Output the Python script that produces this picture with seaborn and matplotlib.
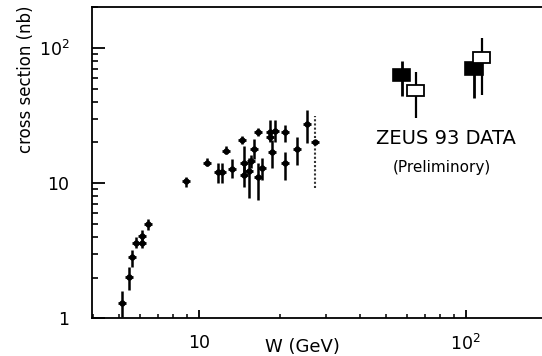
import numpy as np
import pandas as pd
import matplotlib
matplotlib.use("Agg")
import matplotlib.pyplot as plt
from matplotlib.patches import Rectangle
from matplotlib.ticker import FixedLocator, FixedFormatter, NullFormatter
import seaborn as sns

# Fixed-target / low-energy photoproduction measurements
w_gev = [5.12, 5.45, 5.61, 5.77, 6.10, 6.10, 6.42, 8.92, 10.66, 11.75, 12.17,
         12.6, 13.3, 14.5, 14.7, 14.7, 15.4, 15.7, 16.0, 16.6, 16.6, 17.2,
         18.4, 18.5, 18.7, 19.3, 20.96, 20.96, 23.2, 25.3, 27.1]
sigma_nb = [1.30, 2.01, 2.83, 3.63, 3.63, 4.09, 4.97, 10.3, 14.2, 12.0, 12.0,
            17.4, 12.8, 20.9, 14.2, 11.5, 12.4, 14.5, 18.0, 23.9, 11.1, 13.05,
            24.1, 21.9, 16.9, 24.5, 23.7, 14.1, 17.9, 27.4, 20.1]
sigma_lo = [1.03, 1.62, 2.41, 3.30, 3.30, 3.80, 4.51, 9.4, 13.3, 10.0, 10.0,
            16.5, 10.9, 19.6, 11.9, 9.4, 7.8, 13.0, 15.1, 22.2, 7.5, 10.6,
            20.2, 20.5, 12.9, 20.3, 20.3, 10.6, 13.6, 19.8, 9.2]
sigma_hi = [1.60, 2.41, 3.21, 4.00, 4.00, 4.50, 5.44, 11.1, 15.4, 14.1, 14.1,
            18.7, 15.0, 22.3, 18.7, 13.5, 15.4, 16.2, 21.3, 25.6, 14.2, 15.4,
            29.4, 23.5, 20.9, 29.1, 27.0, 17.1, 21.9, 34.6, 31.3]

# ZEUS 93 results: two analyses (filled / open boxes)
zeus_filled_w = [57.4, 107.0]
zeus_filled_sigma = [62.9, 70.3]
zeus_filled_w_lo = [53.5, 99.6]
zeus_filled_w_hi = [61.6, 115.8]
zeus_filled_box_lo = [56.5, 62.9]
zeus_filled_box_hi = [69.9, 78.6]
zeus_filled_err_lo = [43.8, 42.6]
zeus_filled_err_hi = [80.5, 78.6]

zeus_open_w = [64.9, 114.5]
zeus_open_sigma = [48.7, 84.8]
zeus_open_w_lo = [60.4, 106.4]
zeus_open_w_hi = [69.8, 123.0]
zeus_open_box_lo = [44.3, 77.4]
zeus_open_box_hi = [53.5, 92.7]
zeus_open_err_lo = [30.3, 45.0]
zeus_open_err_hi = [65.9, 118.6]

y_ticks = [1, 10, 100]
y_tick_labels = ["1", "10", r"$10^2$"]
x_ticks = [10, 100]
x_tick_labels = ["10", r"$10^2$"]

sns.set_style("ticks")
plt.rcParams["font.family"] = ["DejaVu Sans"]
plt.rcParams["mathtext.fontset"] = "dejavusans"
for key in ("text.color", "axes.labelcolor", "xtick.color", "ytick.color",
            "xtick.labelcolor", "ytick.labelcolor"):
    plt.rcParams[key] = "black"

fig = plt.figure(figsize=(5.42, 3.56), dpi=100)
ax = fig.add_axes([0.1692, 0.1059, 0.8308, 0.8736])
ax.set_xscale("log")
ax.set_yscale("log")
ax.set_xlim(3.95, 193)
ax.set_ylim(1, 200)

df = pd.DataFrame({"W": w_gev, "sigma": sigma_nb, "lo": sigma_lo, "hi": sigma_hi})

# error bars (the last measurement is drawn dotted)
ax.vlines(df["W"][:-1], df["lo"][:-1], df["hi"][:-1], color="black", lw=1.8, zorder=2)
ax.vlines(df["W"].iloc[-1:], df["lo"].iloc[-1:], df["hi"].iloc[-1:], color="#333333",
          lw=1.5, linestyles=(0, (1, 1)), zorder=2)
sns.scatterplot(data=df, x="W", y="sigma", marker="o", s=16, color="black",
                edgecolor="black", linewidth=0.5, ax=ax, zorder=3)
sns.scatterplot(data=df, x="W", y="sigma", marker="_", s=32, color="black",
                linewidth=2.0, ax=ax, zorder=3)

# ZEUS boxes with their error bars
ax.vlines(zeus_filled_w, zeus_filled_err_lo, zeus_filled_err_hi, color="black", lw=2.0, zorder=3)
ax.vlines(zeus_open_w, zeus_open_err_lo, zeus_open_err_hi, color="black", lw=1.6, zorder=3)
for x0, x1, y0, y1 in zip(zeus_filled_w_lo, zeus_filled_w_hi, zeus_filled_box_lo, zeus_filled_box_hi):
    ax.add_patch(Rectangle((x0, y0), x1 - x0, y1 - y0, facecolor="black",
                           edgecolor="black", lw=1.2, zorder=4))
for x0, x1, y0, y1 in zip(zeus_open_w_lo, zeus_open_w_hi, zeus_open_box_lo, zeus_open_box_hi):
    ax.add_patch(Rectangle((x0, y0), x1 - x0, y1 - y0, facecolor="white",
                           edgecolor="black", lw=1.3, zorder=5))

ax.text(0.787, 0.578, "ZEUS 93 DATA", transform=ax.transAxes, ha="center",
        va="center", fontsize=14, color="black")
ax.text(0.778, 0.485, "(Preliminory)", transform=ax.transAxes, ha="center",
        va="center", fontsize=11, color="black")

# axes styling
for side in ("left", "bottom", "top"):
    ax.spines[side].set_linewidth(1.3)
    ax.spines[side].set_color("black")
ax.spines["right"].set_visible(False)

ax.yaxis.set_major_locator(FixedLocator(y_ticks))
ax.yaxis.set_major_formatter(FixedFormatter(y_tick_labels))
ax.yaxis.set_minor_formatter(NullFormatter())
ax.xaxis.set_major_locator(FixedLocator(x_ticks))
ax.xaxis.set_major_formatter(FixedFormatter(x_tick_labels))
ax.xaxis.set_minor_formatter(NullFormatter())

ax.tick_params(axis="y", which="major", direction="in", length=9, width=1.3,
               labelsize=12.5, pad=16, right=False, colors="black")
ax.tick_params(axis="y", which="minor", direction="in", length=4, width=1.2,
               right=False, colors="black")
ax.tick_params(axis="x", which="major", direction="in", length=5.5, width=1.3,
               labelsize=12.5, pad=11, top=False, colors="black")
ax.tick_params(axis="x", which="minor", direction="in", length=3, width=1.1,
               top=False, colors="black")

ax.set_xlabel("W (GeV)", fontsize=13, va="center", color="black")
ax.set_ylabel("cross section (nb)", fontsize=12, color="black")
ax.xaxis.set_label_coords(0.468, -0.092)
ax.yaxis.set_label_coords(-0.126, 0.768)

fig.savefig("out.png", dpi=100)
